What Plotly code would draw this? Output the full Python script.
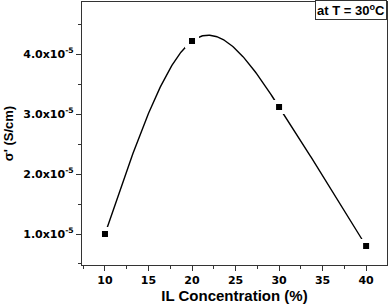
import numpy as np
import plotly.graph_objects as go

conc = [10, 20, 30, 40]
sigma = [1.0e-5, 4.22e-5, 3.12e-5, 0.80e-5]
ytick_vals = [1e-5, 2e-5, 3e-5, 4e-5]
ytick_text = ["1.0x10<sup>-5</sup>", "2.0x10<sup>-5</sup>", "3.0x10<sup>-5</sup>", "4.0x10<sup>-5</sup>"]
xtick_vals = [10, 15, 20, 25, 30, 35, 40]

FONT = "Liberation Sans, Arial, sans-serif"
TICKFONT = "DejaVu Sans, sans-serif"


def natural_spline(xs, ys, n=300):
    xs = np.asarray(xs, float)
    ys = np.asarray(ys, float)
    k = len(xs)
    h = np.diff(xs)
    A = np.zeros((k, k))
    b = np.zeros(k)
    A[0, 0] = A[-1, -1] = 1
    for i in range(1, k - 1):
        A[i, i - 1] = h[i - 1]
        A[i, i] = 2 * (h[i - 1] + h[i])
        A[i, i + 1] = h[i]
        b[i] = 6 * ((ys[i + 1] - ys[i]) / h[i] - (ys[i] - ys[i - 1]) / h[i - 1])
    M = np.linalg.solve(A, b)
    xx = np.linspace(xs[0], xs[-1], n)
    yy = np.empty_like(xx)
    for j, x in enumerate(xx):
        i = min(np.searchsorted(xs, x, side="right") - 1, k - 2)
        x0, x1 = xs[i], xs[i + 1]
        hi = h[i]
        yy[j] = (M[i] * (x1 - x) ** 3 / (6 * hi) + M[i + 1] * (x - x0) ** 3 / (6 * hi)
                 + (ys[i] / hi - M[i] * hi / 6) * (x1 - x)
                 + (ys[i + 1] / hi - M[i + 1] * hi / 6) * (x - x0))
    return xx, yy


sx, sy = natural_spline(conc, sigma)

fig = go.Figure()
fig.add_trace(go.Scatter(
    x=sx, y=sy, mode="lines",
    line=dict(color="black", width=1.4),
    showlegend=False, hoverinfo="skip",
))
fig.add_trace(go.Scatter(
    x=conc, y=sigma, mode="markers",
    marker=dict(symbol="square", size=10, color="black", line=dict(color="white", width=4)),
    showlegend=False,
))

axis_common = dict(
    showline=True, linecolor="#333", linewidth=1.2, mirror=True,
    ticks="outside", tickcolor="#333", tickwidth=1.2, ticklen=5,
    showgrid=False, zeroline=False,
    tickfont=dict(family=TICKFONT, size=11, color="black", weight="bold"),
)

fig.update_xaxes(
    range=[7.36, 42.4], tickvals=xtick_vals, ticktext=[str(v) for v in xtick_vals],
    minor=dict(tickvals=[7.5, 12.5, 17.5, 22.5, 27.5, 32.5, 37.5, 42.5], ticklen=3, tickcolor="#333", ticks="outside"),
    title=dict(text="IL Concentration (%)", font=dict(family=FONT, size=15, color="black", weight="bold"), standoff=4),
    **axis_common,
)
fig.update_yaxes(
    range=[0.483e-5, 4.87e-5], tickvals=ytick_vals, ticktext=ytick_text,
    minor=dict(tickvals=[0.5e-5, 1.5e-5, 2.5e-5, 3.5e-5, 4.5e-5], ticklen=3, tickcolor="#333", ticks="outside"),
    title=dict(text="σ' (S/cm)", font=dict(family=FONT, size=13, color="black", weight="bold"), standoff=6),
    **axis_common,
)

fig.add_annotation(
    xref="paper", yref="paper", x=1, y=1.008, xanchor="right", yanchor="top",
    text="at T = 30<sup>o</sup>C", showarrow=False,
    font=dict(family=FONT, size=13, color="black", weight="bold"),
    bordercolor="#333", borderwidth=1, borderpad=1, bgcolor="white",
)

fig.update_layout(
    width=392, height=305,
    margin=dict(l=82, r=5, t=2, b=40),
    plot_bgcolor="white", paper_bgcolor="white",
)

fig.write_html("out.html", config={"displayModeBar": False},
               post_script="document.body.style.margin='0';document.body.style.overflow='hidden';")
